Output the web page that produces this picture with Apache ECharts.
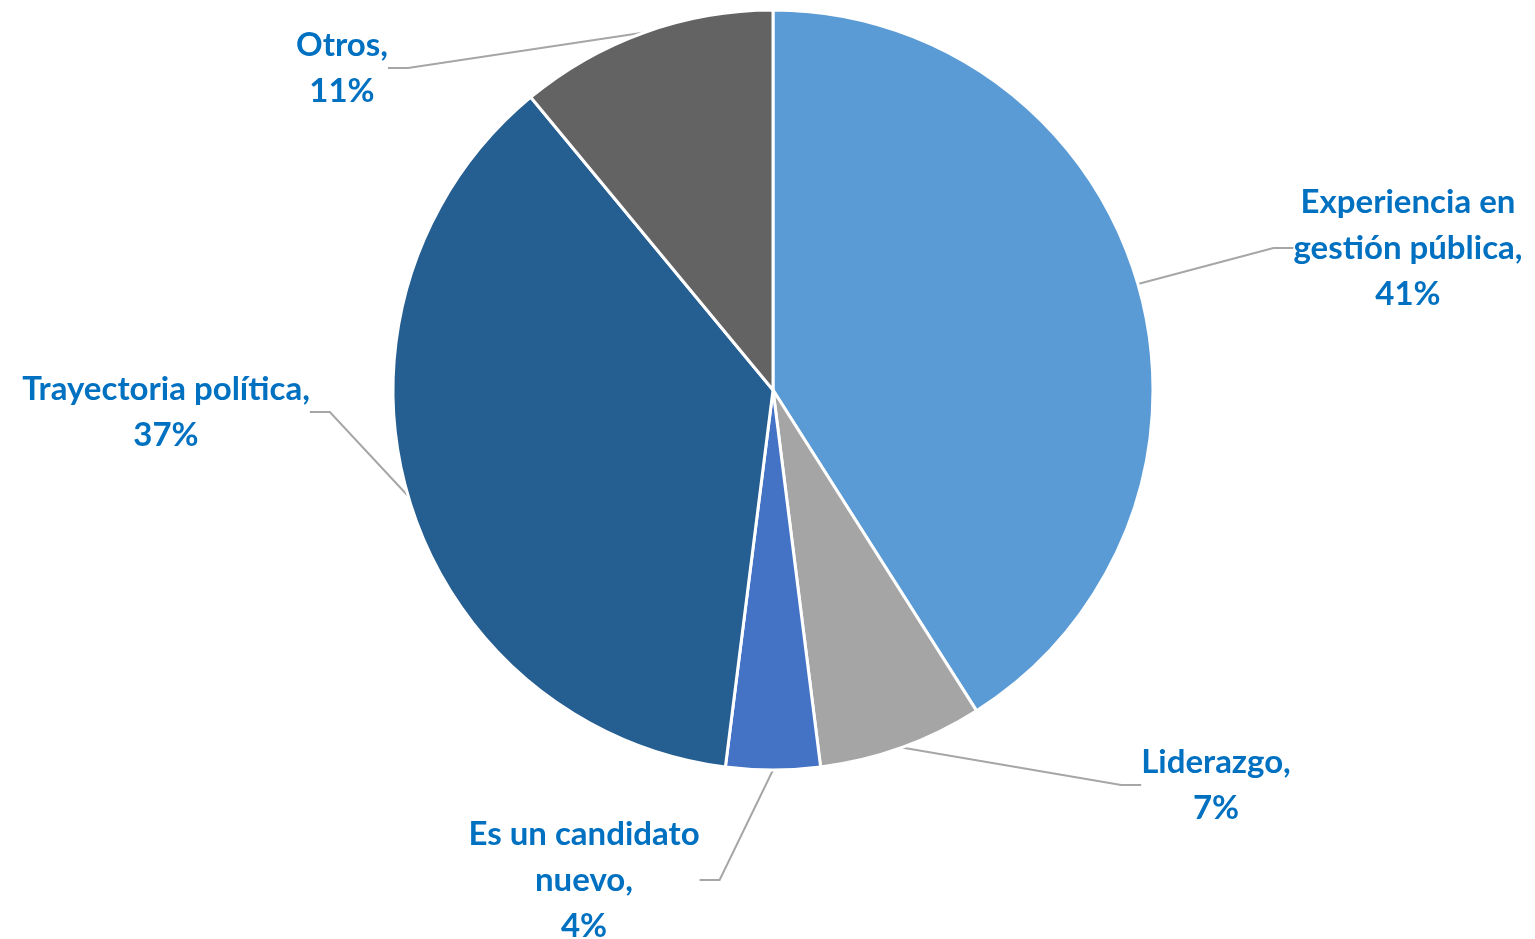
<!DOCTYPE html>
<html>
<head>
<meta charset="utf-8">
<title>Pie</title>
<script src="https://cdn.jsdelivr.net/npm/echarts@6/dist/echarts.min.js"></script>
<style>
  html, body { margin: 0; padding: 0; background: #fff; }
  #chart { width: 1535px; height: 939px; }
</style>
</head>
<body>
<div id="chart"></div>
<script>
// datos
var categories = ['Experiencia en\ngestión pública', 'Liderazgo', 'Es un candidato\nnuevo', 'Trayectoria política', 'Otros']
var values = [41, 7, 4, 37, 11]
var colors = ['#5B9BD5', '#A5A5A5', '#4472C4', '#255E91', '#636363']

// donde van las etiquetas (centro del bloque de texto)
var labelPos = [
  [1408, 248],
  [1216, 785],
  [584, 880],
  [166, 412],
  [342, 68]
]

var myChart = echarts.init(document.getElementById('chart'))

var option = {
  animation: false,
  series: [
    {
      type: 'pie',
      center: [773, 390],
      radius: 380,
      startAngle: 90,
      clockwise: true,
      itemStyle: {
        borderColor: '#fff',
        borderWidth: 3
      },
      label: {
        show: true,
        position: 'outside',
        formatter: function (p) {
          return p.name + ',\n' + p.value + '%'
        },
        color: '#0070C0',
        fontFamily: 'Lato',
        fontWeight: 'bold',
        fontSize: 33,
        lineHeight: 46,
        align: 'center'
      },
      labelLine: {
        show: true,
        length: 20,
        length2: 20,
        lineStyle: { color: '#A6A6A6', width: 2 }
      },
      labelLayout: function (params) {
        var pos = labelPos[params.dataIndex]
        return {
          x: pos[0],
          y: pos[1],
          align: 'center',
          verticalAlign: 'middle'
        }
      },
      data: categories.map(function (name, i) {
        return { name: name, value: values[i], itemStyle: { color: colors[i] } }
      })
    }
  ]
}

myChart.setOption(option)
</script>
</body>
</html>
